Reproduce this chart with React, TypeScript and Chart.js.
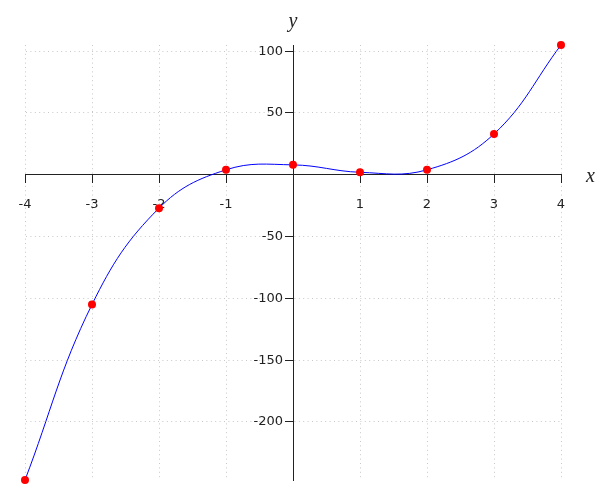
import React, { useEffect, useRef } from "react";
import { Chart, registerables } from "chart.js";

Chart.register(...registerables);

const xValues = [-4, -3, -2, -1, 0, 1, 2, 3, 4];
const yValues = [-247, -105, -27, 4, 8, 2, 4, 33, 105];
const xTicks = [-4, -3, -2, -1, 1, 2, 3, 4];
const yTicks = [-200, -150, -100, -50, 50, 100];
const xRange = [-4, 4];
const yRange = [-247, 105];
const xTitle = "x";
const yTitle = "y";

// Place the y axis (drawn as a "left" scale) on x = 0 after layout.
const centerYAxis = {
  id: "centerYAxis",
  afterLayout(chart: any) {
    const y = chart.scales.y;
    const px = chart.scales.x.getPixelForValue(0);
    y.right = px;
    y.left = px - 60;
    y.width = 60;
  },
};

const axisTitles = {
  id: "axisTitles",
  afterDraw(chart: any) {
    const { ctx, chartArea, scales } = chart;
    ctx.save();
    ctx.font = 'italic 20px "Liberation Serif"';
    ctx.fillStyle = "#222";
    ctx.textBaseline = "alphabetic";
    ctx.textAlign = "center";
    ctx.fillText(yTitle, scales.x.getPixelForValue(0), chartArea.top - 18);
    ctx.textAlign = "left";
    ctx.fillText(xTitle, chartArea.right + 25, scales.y.getPixelForValue(0) + 7);
    ctx.restore();
  },
};

export default function App() {
  const ref = useRef<HTMLCanvasElement | null>(null);
  useEffect(() => {
    document.body.style.margin = "0";
    const tickFont = { family: '"DejaVu Sans", sans-serif', size: 13 };
    const gridOpts: any = {
      color: "#c8c8c8",
      lineWidth: 1,
      tickColor: "#222",
      tickLength: 8,
      tickWidth: 1,
      tickBorderDash: [],
    };
    const chart = new Chart(ref.current as HTMLCanvasElement, {
      type: "line",
      data: {
        datasets: [
          {
            data: xValues.map((x, i) => ({ x, y: yValues[i] })),
            borderColor: "#0000ff",
            borderWidth: 1,
            backgroundColor: "#ff0000",
            pointBackgroundColor: "#ff0000",
            pointBorderColor: "#ff0000",
            pointBorderWidth: 0,
            pointRadius: 4,
            tension: 0.4,
            fill: false,
            clip: false as any,
          },
        ],
      },
      options: {
        responsive: false,
        animation: false,
        layout: { padding: { left: 25, right: 39, top: 45, bottom: 20 } },
        plugins: { legend: { display: false }, tooltip: { enabled: false } },
        scales: {
          x: {
            type: "linear",
            position: { y: 0 } as any,
            min: xRange[0],
            max: xRange[1],
            afterBuildTicks: (s: any) => {
              s.ticks = xTicks.map((v) => ({ value: v }));
            },
            grid: gridOpts,
            border: { display: true, color: "#222", width: 1, dash: [1, 3.4] },
            ticks: { font: tickFont, color: "#222", padding: 14, maxRotation: 0, autoSkip: false },
          },
          y: {
            type: "linear",
            position: "left",
            min: yRange[0],
            max: yRange[1],
            afterBuildTicks: (s: any) => {
              s.ticks = yTicks.map((v) => ({ value: v }));
            },
            afterFit: (s: any) => {
              s.width = 0;
            },
            grid: gridOpts,
            border: { display: true, color: "#222", width: 1, dash: [1, 3.4] },
            ticks: { font: tickFont, color: "#222", padding: 2, autoSkip: false },
          },
        },
      },
      plugins: [centerYAxis, axisTitles],
    });
    return () => chart.destroy();
  }, []);
  return (
    <div style={{ width: 600, height: 500 }}>
      <canvas ref={ref} width={600} height={500} style={{ display: "block" }} />
    </div>
  );
}
